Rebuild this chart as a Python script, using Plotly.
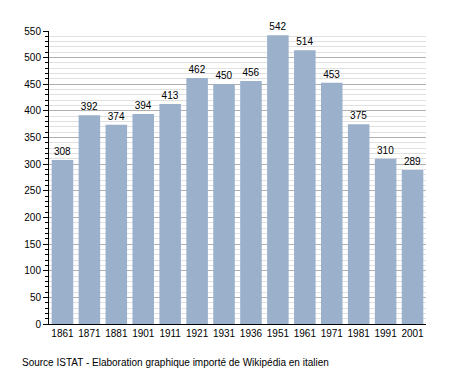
import plotly.graph_objects as go

years = ["1861", "1871", "1881", "1901", "1911", "1921", "1931", "1936", "1951", "1961", "1971", "1981", "1991", "2001"]
population = [308, 392, 374, 394, 413, 462, 450, 456, 542, 514, 453, 375, 310, 289]
y_ticks = list(range(0, 551, 50))

fig = go.Figure()
fig.add_trace(go.Bar(
    x=years, y=population,
    marker=dict(color="#9ab0cb", line=dict(width=0)),
    text=[str(v) for v in population], textposition="outside",
    textfont=dict(size=10, color="black", family="Liberation Sans, Arial, sans-serif"),
    cliponaxis=False,
))

fig.update_layout(
    width=455, height=373,
    margin=dict(l=49, r=29, t=31, b=49),
    paper_bgcolor="white", plot_bgcolor="white",
    bargap=0.2,
    showlegend=False,
    font=dict(family="Liberation Sans, Arial, sans-serif", size=10, color="black"),
    xaxis=dict(type="category", showline=True, linecolor="black", linewidth=1,
               ticks="", showgrid=False, tickfont=dict(size=10)),
    yaxis=dict(range=[0, 550], tickvals=y_ticks, showline=True, linecolor="black", linewidth=1,
               ticks="outside", ticklen=5, tickcolor="black", gridcolor="#b0b0b0", gridwidth=1,
               zeroline=False, tickfont=dict(size=10),
               minor=dict(dtick=10, ticks="outside", ticklen=3, tickcolor="black",
                          showgrid=True, gridcolor="#e0e0e0", gridwidth=1)),
    annotations=[dict(text="Source ISTAT - Elaboration graphique importé de Wikipédia en italien",
                      xref="paper", yref="paper", x=(20 - 49) / 377, y=-38 / 293,
                      xanchor="left", yanchor="middle", showarrow=False,
                      font=dict(size=10, color="black"))],
)
fig.write_html("out.html", config={"displayModeBar": False},
               post_script="document.body.style.margin='0';")
